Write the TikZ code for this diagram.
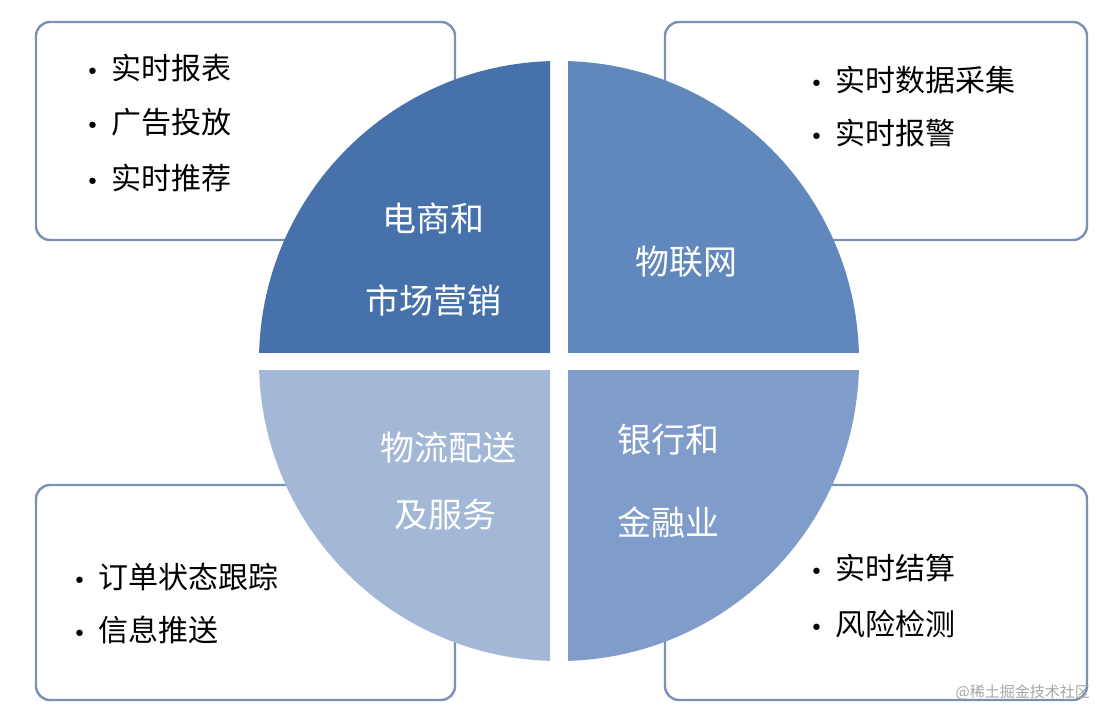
\documentclass[tikz,border=0pt]{standalone}
\usepackage{fontspec}
\setmainfont{Noto Sans CJK SC}
\newfontfamily\bulfont{DejaVu Sans}
\begin{document}
\begin{tikzpicture}[x=1pt,y=-1pt,
  box/.style={draw=boxc,line width=2.4pt,rounded corners=14pt,fill=white},
  item/.style={anchor=west,font=\fontsize{30}{32}\selectfont,text=black,inner sep=0pt},
  quad/.style={font=\fontsize{34}{36}\selectfont,text=white,inner sep=0pt},
  wm/.style={font=\fontsize{15}{17}\selectfont,text=gray!70,inner sep=0pt}]
\definecolor{boxc}{HTML}{7A91B6}
\definecolor{qa}{HTML}{4671AA}
\definecolor{qb}{HTML}{6188BD}
\definecolor{qc}{HTML}{A3B7D7}
\definecolor{qd}{HTML}{7F9CCB}
\newcommand{\bul}{{\bulfont\fontsize{22}{24}\selectfont •}\hspace{12pt}}
\useasboundingbox (0,0) rectangle (1097,709);
\fill[white] (0,0) rectangle (1097,709);
\draw[box] (36,22) rectangle (455,240);
\draw[box] (665,22) rectangle (1087,240);
\draw[box] (36,485) rectangle (455,700);
\draw[box] (665,485) rectangle (1087,700);
\coordinate (c) at (559,361);
\begin{scope}\clip (200,0) rectangle (550,352); \fill[qa] (c) circle[radius=300];\end{scope}
\begin{scope}\clip (568,0) rectangle (900,352); \fill[qb] (c) circle[radius=300];\end{scope}
\begin{scope}\clip (200,370) rectangle (550,709); \fill[qc] (c) circle[radius=300];\end{scope}
\begin{scope}\clip (568,370) rectangle (900,709); \fill[qd] (c) circle[radius=300];\end{scope}
\node[quad] (q1a) at (433,218) {电商和};
\node[quad] (q1b) at (433,300) {市场营销};
\node[quad] (q2) at (686,262) {物联网};
\node[quad] (q3a) at (448,448) {物流配送};
\node[quad] (q3b) at (445,515) {及服务};
\node[quad] (q4a) at (668,440) {银行和};
\node[quad] (q4b) at (668,522) {金融业};
\node[item] (a1) at (86,68) {\bul 实时报表};
\node[item] (a2) at (86,122) {\bul 广告投放};
\node[item] (a3) at (86,178) {\bul 实时推荐};
\node[item] (b1) at (810,80) {\bul 实时数据采集};
\node[item] (b2) at (810,133) {\bul 实时报警};
\node[item] (c1) at (73,577) {\bul 订单状态跟踪};
\node[item] (c2) at (73,630) {\bul 信息推送};
\node[item] (d1) at (810,568) {\bul 实时结算};
\node[item] (d2) at (810,624) {\bul 风险检测};
\node[wm,anchor=east] (w) at (1090,692) {@稀土掘金技术社区};
\end{tikzpicture}
\end{document}
